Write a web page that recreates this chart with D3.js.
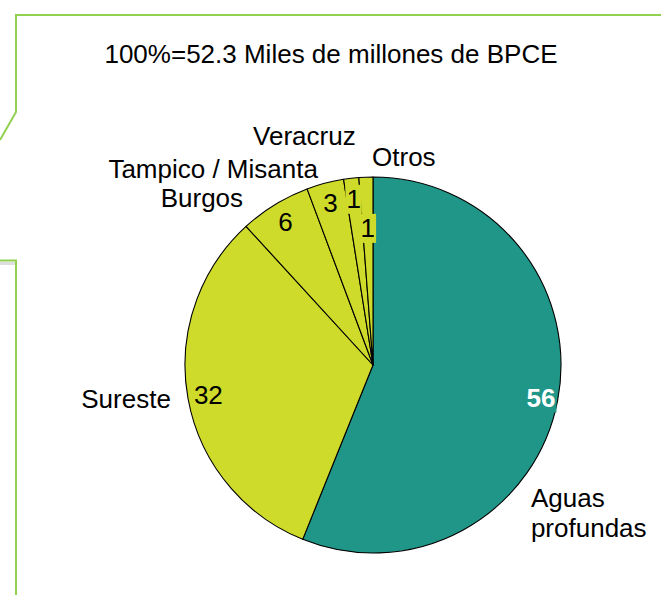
<!DOCTYPE html>
<html>
<head>
<meta charset="utf-8">
<script src="https://cdn.jsdelivr.net/npm/d3@7"></script>
<style>
  html, body { margin: 0; padding: 0; background: #ffffff; }
  svg { display: block; }
  text { font-family: "Liberation Sans", Arial, Helvetica, sans-serif; }
</style>
</head>
<body>
<svg id="chart" width="661" height="595"></svg>
<script>
// ---- data ----
const categories = ["Aguas profundas", "Sureste", "Burgos", "Tampico / Misanta", "Veracruz", "Otros"];
const values = [56.1, 32.1, 6.1, 3.2, 1.3, 1.2];
const title = "100%=52.3 Miles de millones de BPCE";

// ---- styling / layout (kept separate from data) ----
const colors = ["#1f9688", "#cedb2a", "#cedb2a", "#cedb2a", "#cedb2a", "#cedb2a"];
const valueColors = ["#ffffff", "#000000", "#000000", "#000000", "#000000", "#000000"];
const valueWeights = ["bold", "normal", "normal", "normal", "normal", "normal"];
// value labels at fraction of radius along mid-angle
const valueRadius = [0.91, 0.89, 0.89, 0.89, 0.89, 0.73];
// category labels: offsets in radius units from pie centre, plus anchor
const catLayout = [
  { fx: 0.84, fy: 0.755, anchor: "start" },
  { fx: -1.075, fy: 0.228, anchor: "end" },
  { fx: -0.691, fy: -0.84, anchor: "end" },
  { fx: -0.293, fy: -0.995, anchor: "end" },
  { fx: -0.638, fy: -1.17, anchor: "start" },
  { fx: -0.005, fy: -1.06, anchor: "start" }
];

const W = 661, H = 595;
const cx = 373, cy = 365, R = 188;
const fontSize = 26;

const svg = d3.select("#chart");

// decorative frame lines
const green = "#92d050";
svg.append("rect").attr("x", 0).attr("y", 262).attr("width", 15).attr("height", 3).attr("fill", "#dedede");
svg.append("path")
  .attr("d", d3.line()([[0, 140], [16, 112], [16, 15], [W, 15]]))
  .attr("fill", "none").attr("stroke", green).attr("stroke-width", 2);
svg.append("path")
  .attr("d", d3.line()([[0, 260.5], [16, 260.5], [16, H]]))
  .attr("fill", "none").attr("stroke", green).attr("stroke-width", 2);

// title
svg.append("text")
  .attr("x", 331).attr("y", 63)
  .attr("text-anchor", "middle")
  .attr("font-size", fontSize)
  .attr("fill", "#000")
  .text(title);

// pie
const pie = d3.pie().sort(null).value(d => d)
  .startAngle(0).endAngle(2 * Math.PI);
const arcs = pie(values);
const arc = d3.arc().innerRadius(0).outerRadius(R);

const g = svg.append("g").attr("transform", `translate(${cx},${cy})`);

g.selectAll("path.slice")
  .data(arcs)
  .enter().append("path")
  .attr("class", "slice")
  .attr("d", arc)
  .attr("fill", (d, i) => colors[i])
  .attr("stroke", "#000")
  .attr("stroke-width", 1.1)
  .attr("stroke-linejoin", "round");

// value labels with background boxes
const fmt = d3.format(".0f");
arcs.forEach((d, i) => {
  const mid = (d.startAngle + d.endAngle) / 2;
  const rr = R * valueRadius[i];
  const x = rr * Math.sin(mid);
  const y = -rr * Math.cos(mid);
  const lg = g.append("g");
  const box = lg.append("rect").attr("fill", colors[i]);
  const t = lg.append("text")
    .attr("x", x).attr("y", y)
    .attr("text-anchor", "middle")
    .attr("dominant-baseline", "central")
    .attr("font-size", fontSize)
    .attr("font-weight", valueWeights[i])
    .attr("fill", valueColors[i])
    .text(fmt(d.data));
  const bb = t.node().getBBox();
  box.attr("x", bb.x - 1).attr("y", bb.y + 1)
     .attr("width", bb.width + 2).attr("height", bb.height - 1);
});

// category labels
categories.forEach((c, i) => {
  const L = catLayout[i];
  const t = svg.append("text")
    .attr("x", cx + L.fx * R)
    .attr("y", cy + L.fy * R)
    .attr("text-anchor", L.anchor)
    .attr("font-size", fontSize)
    .attr("fill", "#000");
  if (c === "Aguas profundas") {
    const parts = c.split(" ");
    parts.forEach((p, k) => {
      t.append("tspan").attr("x", cx + L.fx * R).attr("dy", k === 0 ? 0 : 30).text(p);
    });
  } else {
    t.text(c);
  }
});
</script>
</body>
</html>
